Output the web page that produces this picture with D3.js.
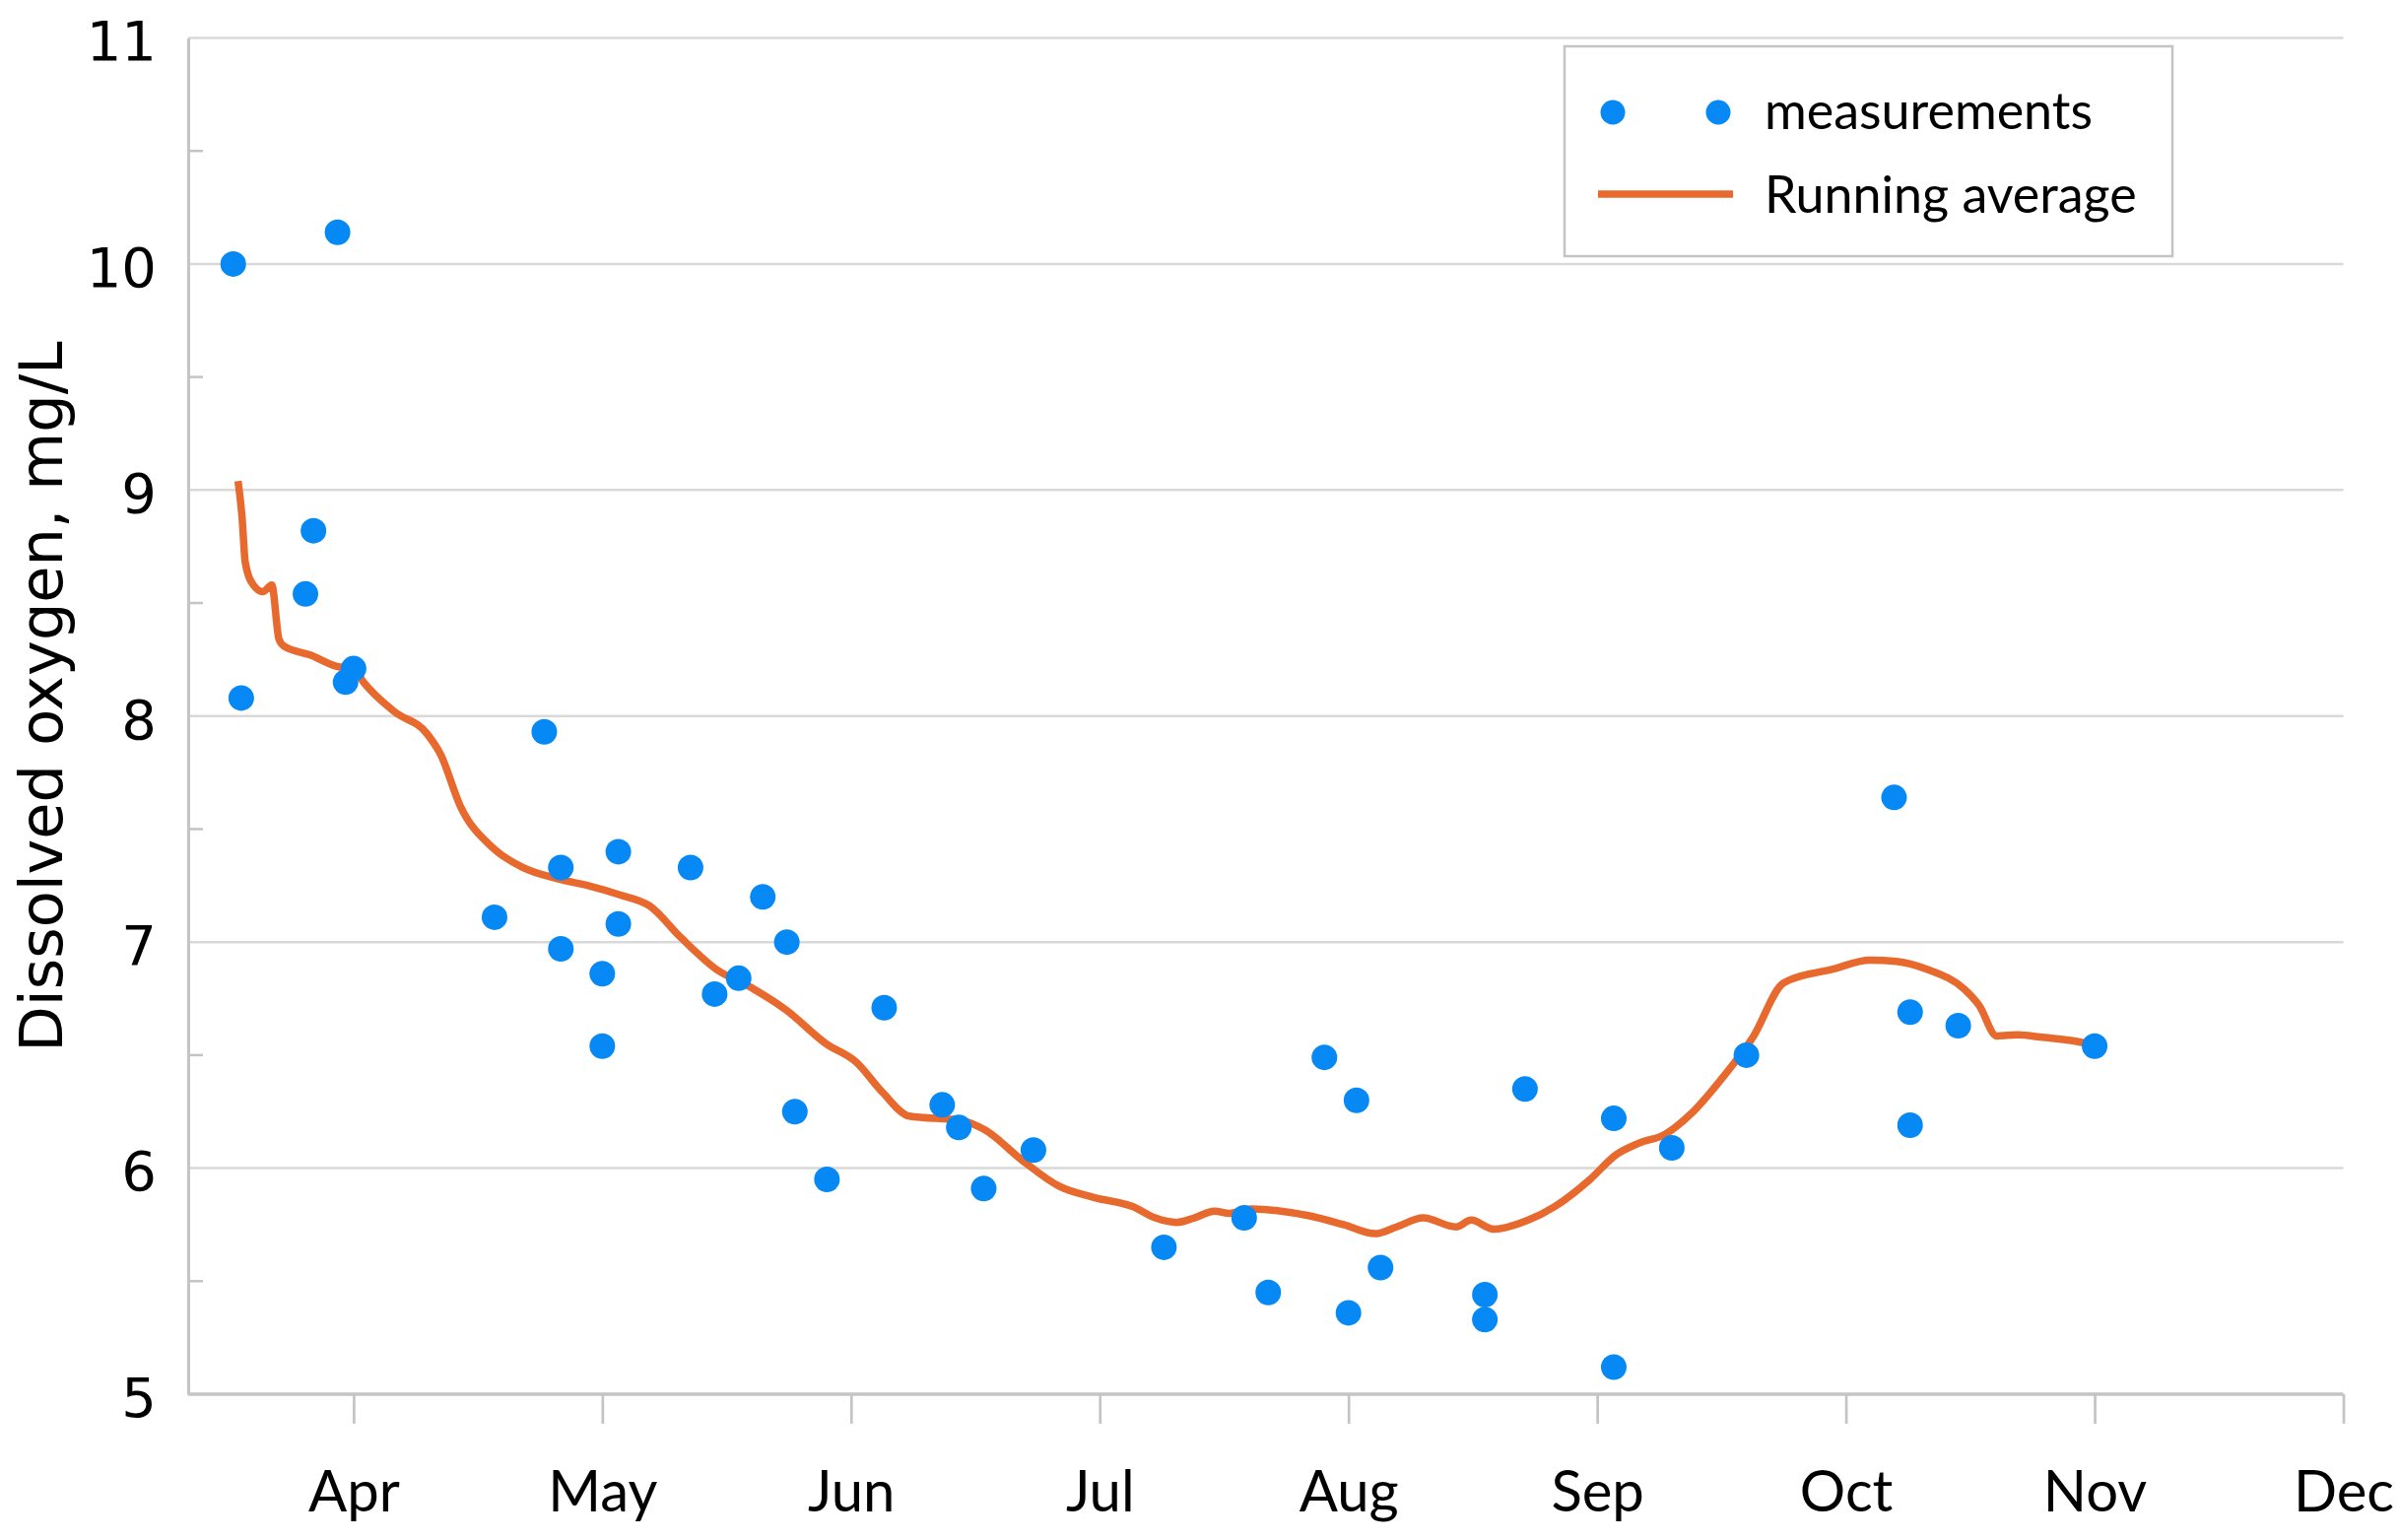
<!DOCTYPE html>
<html><head><meta charset="utf-8">
<script src="https://cdn.jsdelivr.net/npm/d3@7"></script>
<style>body{margin:0;background:#fff}svg{display:block}</style>
</head><body>
<svg id="c" width="2436" height="1563"></svg>
<script>
// ---- data ----
const monthLabels = ["Apr","May","Jun","Jul","Aug","Sep","Oct","Nov","Dec"];
const monthTicks = [4,5,6,7,8,9,10,11,12];
const yTicks = [5,6,7,8,9,10,11];
const yMinorTicks = [5.5,6.5,7.5,8.5,9.5,10.5];
const yTickLabels = ["5","6","7","8","9","10","11"];

const measDates = ["Mar 17","Mar 18","Mar 26","Mar 27","Mar 30","Mar 31","Apr 1","Apr 18","Apr 24","Apr 26","Apr 26","May 1","May 1","May 3","May 3","May 12","May 15","May 18","May 21","May 24","May 25","May 29","Jun 5","Jun 12","Jun 14","Jun 17","Jun 23","Jul 9","Jul 19","Jul 22","Jul 29","Aug 1","Aug 2","Aug 5","Aug 18","Aug 18","Aug 23","Sep 3","Sep 3","Sep 10","Sep 19","Oct 7","Oct 9","Oct 9","Oct 15","Nov 1"];
const measValues = [10.00,8.08,8.54,8.82,10.14,8.15,8.21,7.11,7.93,7.33,6.97,6.86,6.54,7.40,7.08,7.33,6.77,6.84,7.20,7.00,6.25,5.95,6.71,6.28,6.18,5.91,6.08,5.65,5.78,5.45,6.49,5.36,6.30,5.56,5.44,5.33,6.35,5.12,6.22,6.09,6.50,7.64,6.69,6.19,6.63,6.54];

const avgDates = ["Mar 17.6","Mar 18.1","Mar 18.5","Mar 19.5","Mar 20.7","Mar 21.8","Mar 22.7","Mar 23.3","Mar 26.6","Mar 29.9","Apr 1","Apr 2.2","Apr 5.9","Apr 9.9","Apr 11.5","Apr 13.9","Apr 17.7","Apr 21.4","Apr 25.6","Apr 29.3","May 3.1","May 6.9","May 10.8","May 15.2","May 19.5","May 23.9","May 28.9","Jun 1.6","Jun 4.8","Jun 8","Jun 14.4","Jun 17.1","Jun 21.8","Jun 26.1","Jun 30.3","Jul 5.1","Jul 7.9","Jul 10.6","Jul 12.8","Jul 15.3","Jul 17.2","Jul 19.9","Jul 27","Jul 31.4","Aug 4.3","Aug 7","Aug 10.3","Aug 14.4","Aug 16.3","Aug 19.1","Aug 23.4","Aug 26.7","Aug 31.1","Sep 3.3","Sep 6","Sep 9.2","Sep 12.3","Sep 16","Sep 19.8","Sep 23.5","Sep 29.4","Oct 4","Oct 7.3","Oct 11.1","Oct 15.8","Oct 17.6","Oct 19.8","Oct 22.4","Oct 25.2","Oct 31.1","Nov 1"];
const avgValues = [9.04,8.88,8.68,8.58,8.55,8.58,8.34,8.31,8.27,8.22,8.21,8.15,8.02,7.92,7.83,7.60,7.42,7.33,7.28,7.25,7.21,7.16,7.02,6.88,6.80,6.70,6.55,6.47,6.335,6.23,6.21,6.17,6.03,5.92,5.87,5.83,5.78,5.76,5.78,5.81,5.80,5.82,5.79,5.75,5.71,5.74,5.78,5.74,5.77,5.73,5.77,5.83,5.95,6.06,6.11,6.15,6.24,6.395,6.58,6.82,6.88,6.92,6.915,6.88,6.79,6.72,6.585,6.59,6.58,6.55,6.54];

const seriesNames = ["measurements","Running average"];
const yTitle = "Dissolved oxygen, mg/L";

// ---- helpers ----
const monthIdx = {Mar:3,Apr:4,May:5,Jun:6,Jul:7,Aug:8,Sep:9,Oct:10,Nov:11,Dec:12};
const daysIn = {3:31,4:30,5:31,6:30,7:31,8:31,9:30,10:31,11:30,12:31};
function toMonth(s){const p=s.split(" ");const m=monthIdx[p[0]];return m+(parseFloat(p[1])-1)/daysIn[m];}

const svg = d3.select("#c");
const L=191, R=2378.5, T=38.5, B=1415;
const x = d3.scaleLinear().domain([3.335,12]).range([L,R]);
const y = d3.scaleLinear().domain([5,11]).range([B,T]);

const gridC="#d9d9d9", axisC="#c4c4c4";
const blue="#0789f5", orange="#e8692e";

// gridlines
svg.append("g").selectAll("line").data(yTicks.filter(v=>v>5)).join("line")
  .attr("x1",L).attr("x2",R).attr("y1",d=>y(d)).attr("y2",d=>y(d))
  .attr("stroke",gridC).attr("stroke-width",2.5);

// y axis
const yAxis = d3.axisLeft(y).tickValues(yTicks).tickSize(0).tickPadding(32)
  .tickFormat((d,i)=>yTickLabels[i]);
const gy = svg.append("g").attr("transform",`translate(${L},0)`).call(yAxis);
gy.select(".domain").attr("stroke",axisC).attr("stroke-width",3);
gy.selectAll("text").attr("font-family","DejaVu Sans").attr("font-size",56).attr("fill","#000").attr("dy","0.4em");
// minor ticks inward
svg.append("g").selectAll("line").data(yMinorTicks).join("line")
  .attr("x1",L).attr("x2",L+15).attr("y1",d=>y(d)).attr("y2",d=>y(d))
  .attr("stroke",axisC).attr("stroke-width",2.5);

// x axis
const xAxis = d3.axisBottom(x).tickValues(monthTicks).tickSize(30).tickPadding(48)
  .tickFormat((d,i)=>monthLabels[i]);
const gx = svg.append("g").attr("transform",`translate(0,${B})`).call(xAxis);
gx.select(".domain").attr("stroke",axisC).attr("stroke-width",3.5).attr("d",`M${L},0H${R}`);
gx.selectAll(".tick line").attr("stroke",axisC).attr("stroke-width",2.7);
gx.selectAll("text").attr("font-family","Lato").attr("font-size",58).attr("fill","#000").attr("dy","0.71em");

// y title
svg.append("text").attr("transform",`translate(63,707) rotate(-90)`)
  .attr("text-anchor","middle").attr("font-family","DejaVu Sans").attr("font-size",60.5)
  .attr("fill","#000").text(yTitle);

// running average line
const avg = avgDates.map((d,i)=>({x:toMonth(d),y:avgValues[i]}));
svg.append("path").datum(avg)
  .attr("d",d3.line().x(d=>x(d.x)).y(d=>y(d.y)).curve(d3.curveMonotoneX))
  .attr("fill","none").attr("stroke",orange).attr("stroke-width",7.5).attr("stroke-linejoin","round");

// measurements
const meas = measDates.map((d,i)=>({x:toMonth(d),y:measValues[i]}));
svg.append("g").selectAll("circle").data(meas).join("circle")
  .attr("cx",d=>x(d.x)).attr("cy",d=>y(d.y)).attr("r",13).attr("fill",blue);

// legend
const lg = svg.append("g");
lg.append("rect").attr("x",1588).attr("y",47).attr("width",617).attr("height",213)
  .attr("fill","#fff").attr("stroke",axisC).attr("stroke-width",2.5);
lg.selectAll("circle").data([1637,1744]).join("circle")
  .attr("cx",d=>d).attr("cy",114).attr("r",12.5).attr("fill",blue);
lg.append("line").attr("x1",1622).attr("x2",1759).attr("y1",197).attr("y2",197)
  .attr("stroke",orange).attr("stroke-width",7.5);
lg.selectAll("text").data(seriesNames).join("text")
  .attr("x",1791).attr("y",(d,i)=>i?216:131)
  .attr("font-family","Lato").attr("font-size",52).attr("fill","#000").text(d=>d);
</script>
</body></html>
